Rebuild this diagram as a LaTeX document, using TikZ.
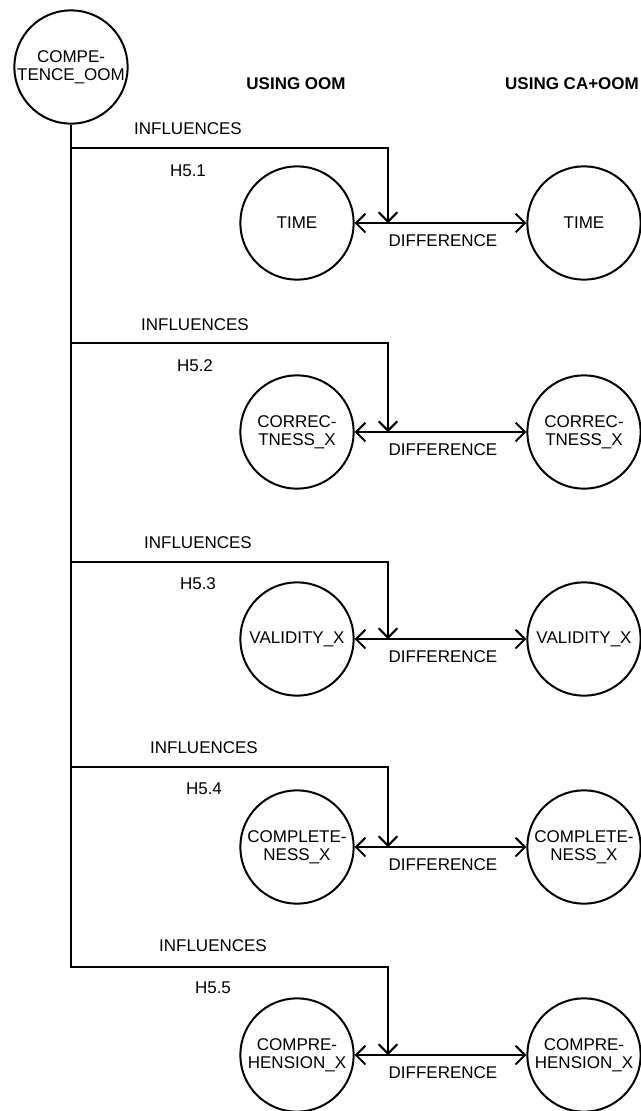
\documentclass[tikz,border=0pt]{standalone}
\usepackage{fontspec}
\setmainfont{Liberation Sans}
\usetikzlibrary{arrows.meta}
\tikzset{var/.style={circle,draw,line width=1.5pt,minimum size=85pt,inner sep=0pt,align=center},
 lbl/.style={inner sep=0pt},
 head/.style={inner sep=0pt,font=\fontsize{12.75}{13.5}\selectfont\bfseries},
 barb/.style={Straight Barb[length=7pt,width=14pt]},
 infl/.style={draw,line width=1.5pt,-{Straight Barb[length=7pt,width=14pt]}},
 diff/.style={draw,line width=1.5pt,{Straight Barb[length=7pt,width=14pt]}-{Straight Barb[length=7pt,width=14pt]}},
 }

\begin{document}
\begin{tikzpicture}[x=0.75pt,y=-0.75pt,every node/.style={font=\fontsize{12.75}{13.5}\selectfont}]
        \useasboundingbox (0,0) rectangle (641,1111);
        \node[var] (comp) at (71,67) {COMPE-\\TENCE\_OOM};
        \node[head] (hoom) at (296,84) {USING OOM};
        \node[head] (hca) at (572,84) {USING CA+OOM};

        % H5.1
        \node[lbl] (inf1) at (188,129) {INFLUENCES};
        \node[lbl] (h1) at (188,171) {H5.1};
        \node[var] (oom1) at (297,223) {TIME};
        \node[var] (ca1) at (584,223) {TIME};
        \node[lbl] (dif1) at (443,241) {DIFFERENCE};
        \coordinate (bend1) at (388,148);
        \coordinate (hit1) at (388,223);
        \draw[diff] (oom1) -- (ca1);
        \draw[infl] (comp) |- (bend1) -- (hit1);

        % H5.2
        \node[lbl] (inf2) at (195,325) {INFLUENCES};
        \node[lbl] (h2) at (195,366) {H5.2};
        \node[var] (oom2) at (297,432) {CORREC-\\TNESS\_X};
        \node[var] (ca2) at (584,432) {CORREC-\\TNESS\_X};
        \node[lbl] (dif2) at (443,450) {DIFFERENCE};
        \coordinate (bend2) at (388,343);
        \coordinate (hit2) at (388,432);
        \draw[diff] (oom2) -- (ca2);
        \draw[infl] (comp) |- (bend2) -- (hit2);

        % H5.3
        \node[lbl] (inf3) at (198,543) {INFLUENCES};
        \node[lbl] (h3) at (198,584) {H5.3};
        \node[var] (oom3) at (297,639) {VALIDITY\_X};
        \node[var] (ca3) at (584,639) {VALIDITY\_X};
        \node[lbl] (dif3) at (443,657) {DIFFERENCE};
        \coordinate (bend3) at (388,562);
        \coordinate (hit3) at (388,639);
        \draw[diff] (oom3) -- (ca3);
        \draw[infl] (comp) |- (bend3) -- (hit3);

        % H5.4
        \node[lbl] (inf4) at (204,748) {INFLUENCES};
        \node[lbl] (h4) at (204,789) {H5.4};
        \node[var] (oom4) at (297,847) {COMPLETE-\\NESS\_X};
        \node[var] (ca4) at (584,847) {COMPLETE-\\NESS\_X};
        \node[lbl] (dif4) at (443,865) {DIFFERENCE};
        \coordinate (bend4) at (388,767);
        \coordinate (hit4) at (388,847);
        \draw[diff] (oom4) -- (ca4);
        \draw[infl] (comp) |- (bend4) -- (hit4);

        % H5.5
        \node[lbl] (inf5) at (213,946) {INFLUENCES};
        \node[lbl] (h5) at (213,988) {H5.5};
        \node[var] (oom5) at (297,1055) {COMPRE-\\HENSION\_X};
        \node[var] (ca5) at (584,1055) {COMPRE-\\HENSION\_X};
        \node[lbl] (dif5) at (443,1073) {DIFFERENCE};
        \coordinate (bend5) at (388,967);
        \coordinate (hit5) at (388,1055);
        \draw[diff] (oom5) -- (ca5);
        \draw[infl] (comp) |- (bend5) -- (hit5);
    \end{tikzpicture}
\end{document}
